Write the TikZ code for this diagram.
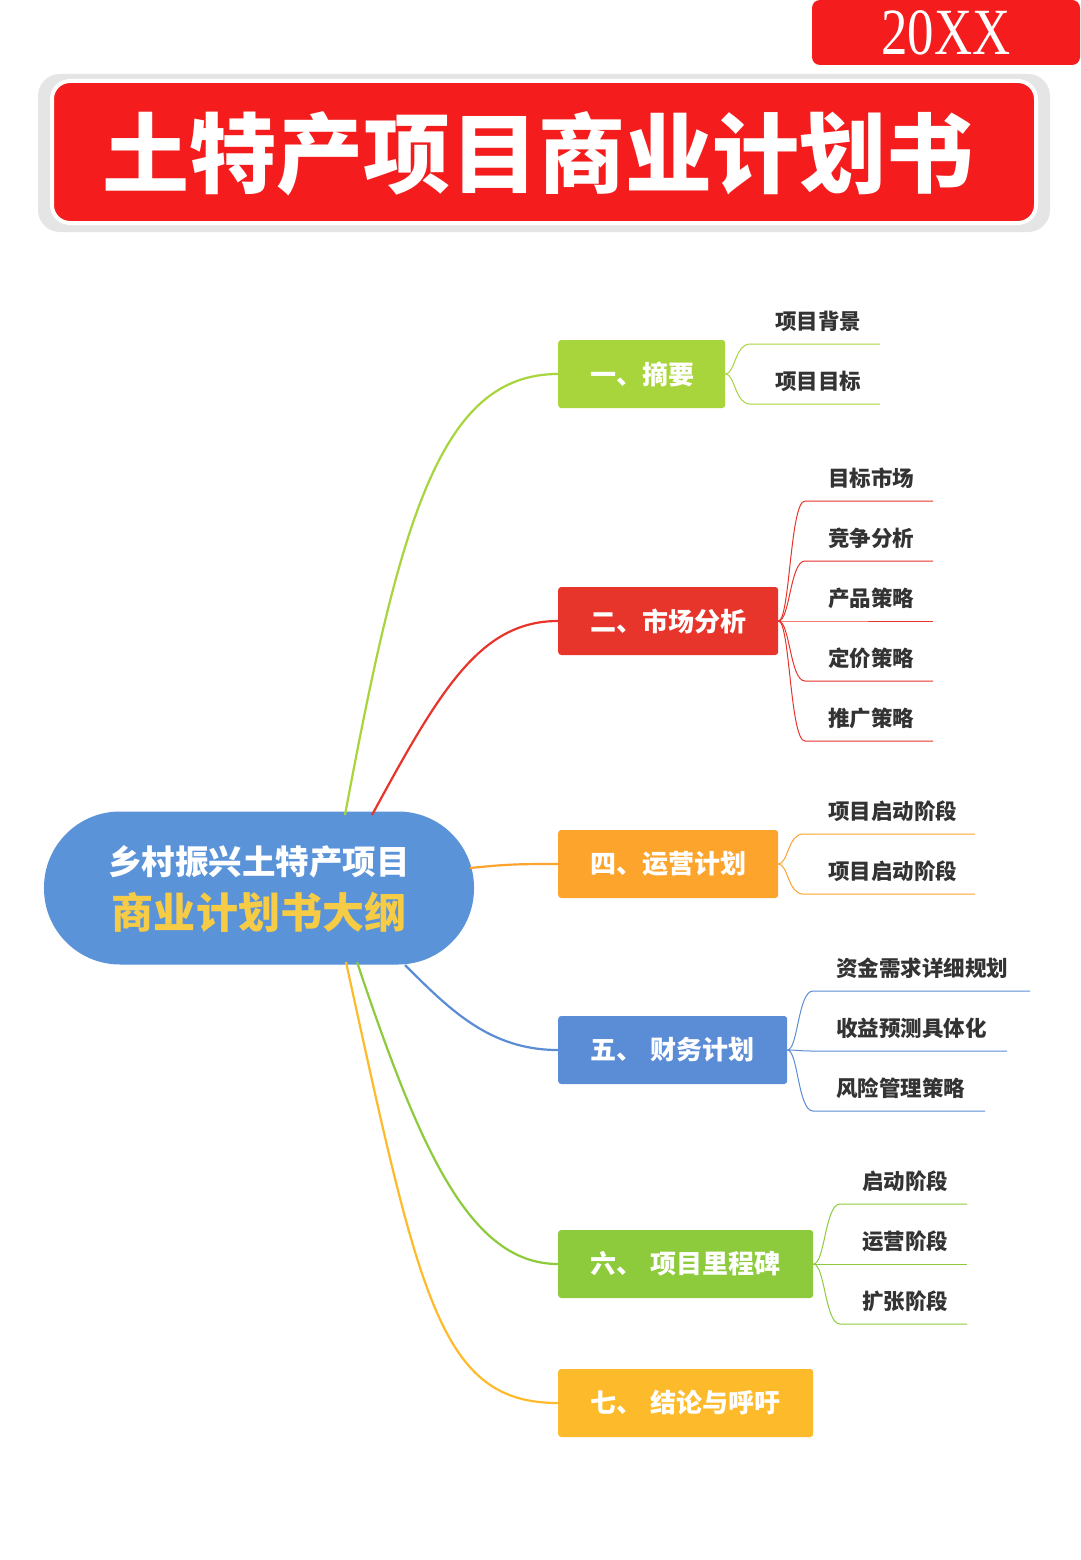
\documentclass[tikz,border=0pt]{standalone}
\usepackage{fontspec}
\setmainfont{Noto Sans CJK SC}
\newfontfamily\serifnum{Liberation Serif}
\definecolor{cg}{HTML}{A8D43C}
\definecolor{cr}{HTML}{E8352B}
\definecolor{co}{HTML}{FCA42C}
\definecolor{cb}{HTML}{5B8CD6}
\definecolor{cg2}{HTML}{8DCB3D}
\definecolor{cy}{HTML}{FDBB2C}
\definecolor{cc}{HTML}{5B93D9}
\definecolor{cyt}{HTML}{F6CB45}
\definecolor{tr}{HTML}{F41C1C}
\definecolor{lt}{HTML}{333333}
\tikzset{
 br/.style={rounded corners=3bp,minimum height=68bp,text=white,font=\fontsize{26bp}{30bp}\selectfont\bfseries,anchor=west,inner xsep=0pt,align=left},
 lf/.style={font=\fontsize{21.5bp}{24bp}\selectfont\bfseries,text=lt,anchor=west,inner sep=0pt},
 cv/.style={line width=2.2bp},
 ln/.style={line width=1bp}
}
\begin{document}
\begin{tikzpicture}[x=1bp,y=-1bp]
\useasboundingbox (0,0) rectangle (1080,1560);
\fill[white] (0,0) rectangle (1080,1560);
% 20XX
\fill[tr,rounded corners=8bp] (812,0) -- (812,65) -- (1080,65) -- (1080,0) -- cycle;
\node (yr) at (946,33) {\serifnum\fontsize{66bp}{70bp}\selectfont\color{white}\scalebox{0.8}[1]{20XX}};
% title
\fill[gray!20,rounded corners=22bp] (38,74) rectangle (1050,232);
\draw[white,line width=4bp,fill=tr,rounded corners=18bp] (52,81) rectangle (1036,223);
\node (title) at (538,154) {\fontsize{87bp}{90bp}\selectfont\bfseries\color{white}土特产项目商业计划书};
% center
\node[fill=cc,rounded corners=76bp,minimum width=430bp,minimum height=153bp,align=center] (c) at (259,888) {};
\node at (259,862) {\fontsize{33.5bp}{38bp}\selectfont\bfseries\color{white}乡村振兴土特产项目};
\node at (259,912) {\fontsize{42bp}{44bp}\selectfont\bfseries\color{cyt}商业计划书大纲};
\coordinate (c1) at (345,815); \coordinate (c2) at (372,815);
\coordinate (c4) at (470,868); \coordinate (c5) at (405,965);
\coordinate (c6) at (357,962); \coordinate (c7) at (346,962);
% branches
\node[br,fill=cg,text width=167bp] (b1) at (558,374) {\hspace*{32bp}一、摘要};
\node[br,fill=cr,text width=220bp] (b2) at (558,621) {\hspace*{32bp}二、市场分析};
\node[br,fill=co,text width=220bp] (b4) at (558,864) {\hspace*{32bp}四、运营计划};
\node[br,fill=cb,text width=229bp] (b5) at (558,1050) {\hspace*{32bp}五、 财务计划};
\node[br,fill=cg2,text width=255bp] (b6) at (558,1264) {\hspace*{32bp}六、 项目里程碑};
\node[br,fill=cy,text width=255bp] (b7) at (558,1403) {\hspace*{32bp}七、 结论与呼吁};
\draw[cv,cg] (c1) .. controls (400,520) and (440,374) .. (b1.west);
\draw[cv,cr] (c2) .. controls (440,690) and (480,621) .. (b2.west);
\draw[cv,co] (c4) .. controls (510,864) and (520,864) .. (b4.west);
\draw[cv,cb] (c5) .. controls (450,1010) and (490,1050) .. (b5.west);
\draw[cv,cg2] (c6) .. controls (420,1150) and (470,1264) .. (b6.west);
\draw[cv,cy] (c7) .. controls (420,1300) and (440,1403) .. (b7.west);
% leaves
\foreach \lab/\yy [count=\i] in {项目背景/344,项目目标/404}{
 \coordinate (l1\i) at (880,\yy);
 \draw[ln,cg] (b1.east) .. controls (735,374) and (735,\yy) .. (750,\yy) -- (l1\i);
 \node[lf] at (775,\yy-23) {\lab};}
\foreach \lab/\yy [count=\i] in {目标市场/501,竞争分析/561,产品策略/621,定价策略/681,推广策略/741}{
 \coordinate (l2\i) at (933,\yy);
 \draw[ln,cr] (b2.east) .. controls (790,621) and (790,\yy) .. (805,\yy) -- (l2\i);
 \node[lf] at (828,\yy-23) {\lab};}
\foreach \lab/\yy [count=\i] in {项目启动阶段/834,项目启动阶段/894}{
 \coordinate (l4\i) at (975,\yy);
 \draw[ln,co] (b4.east) .. controls (788,864) and (788,\yy) .. (803,\yy) -- (l4\i);
 \node[lf] at (828,\yy-23) {\lab};}
\foreach \lab/\yy/\xe [count=\i] in {资金需求详细规划/991/1030,收益预测具体化/1051/1007,风险管理策略/1111/985}{
 \coordinate (l5\i) at (\xe,\yy);
 \draw[ln,cb] (b5.east) .. controls (798,1050) and (798,\yy) .. (813,\yy) -- (l5\i);
 \node[lf] at (836,\yy-23) {\lab};}
\foreach \lab/\yy [count=\i] in {启动阶段/1204,运营阶段/1264,扩张阶段/1324}{
 \coordinate (l6\i) at (967,\yy);
 \draw[ln,cg2] (b6.east) .. controls (825,1264) and (825,\yy) .. (840,\yy) -- (l6\i);
 \node[lf] at (862,\yy-23) {\lab};}
\end{tikzpicture}
\end{document}
